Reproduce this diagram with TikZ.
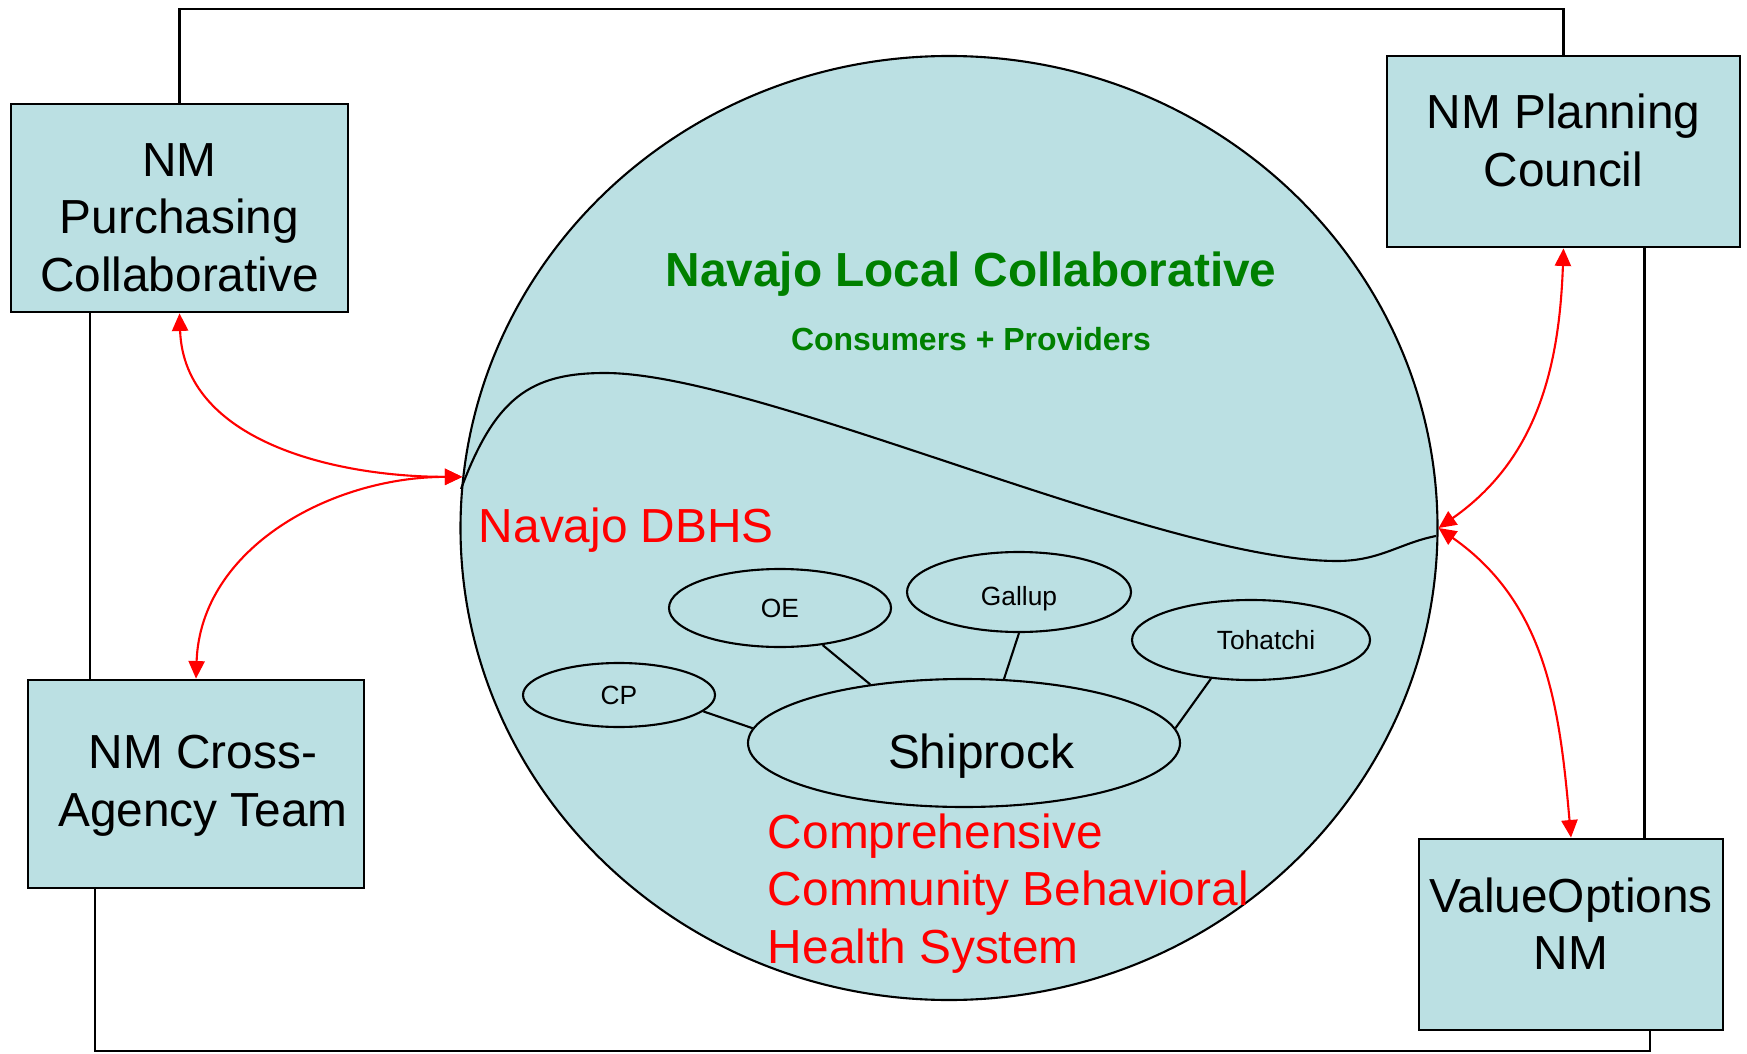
\documentclass[tikz,border=0pt]{standalone}
\usepackage{fontspec}
\setmainfont{Liberation Sans}
\usepackage{xcolor}
\usepackage{tikz}
\usetikzlibrary{calc, positioning, arrows.meta, shapes.geometric}
\definecolor{nlcblue}{RGB}{187,224,227}
\definecolor{nlcgreen}{RGB}{0,128,0}
\newcommand{\bigtxt}{\fontsize{13.6}{16.4}\selectfont}
\newcommand{\smalltxt}{\fontsize{7.5}{9}\selectfont}
\tikzset{
    agency/.style={rectangle, draw=black, line width=0.8pt, fill=nlcblue, inner sep=0pt},
    boxtext/.style={font=\bigtxt, align=center, inner sep=0pt},
    region/.style={ellipse, draw=black, line width=0.6pt, fill=nlcblue, inner sep=0pt, minimum width=9.77cm, minimum height=9.44cm},
    site/.style={ellipse, draw=black, line width=0.6pt, fill=nlcblue, inner sep=0pt, font=\smalltxt},
    wire/.style={line width=0.7pt},
    spoke/.style={line width=0.6pt},
    link/.style={{Triangle[length=5pt,width=4.6pt]}-{Triangle[length=5pt,width=4.6pt]}, red, line width=0.6pt},
    title/.style={font=\bigtxt\bfseries, text=nlcgreen},
    redtxt/.style={font=\bigtxt, text=red, align=left}
}

\begin{document}
\begin{tikzpicture}
    \useasboundingbox (0,0) rectangle (17.47,10.53);

    % Navajo Local Collaborative
    \node[region] (nlc) at (9.49,5.25) {};
    \draw[line width=0.6pt] (4.61,5.64) .. controls (4.95,6.55) and (5.3,6.8) .. (6.05,6.8)
        .. controls (7.6,6.8) and (11.6,4.92) .. (13.37,4.92)
        .. controls (13.8,4.92) and (14.0,5.1) .. (14.36,5.17);
    \node[title] (nlctitle) at (9.71,7.785) {Navajo Local Collaborative};
    \node[title, font=\fontsize{9.1}{11}\selectfont\bfseries] (cp-title) at (9.71,7.14) {Consumers + Providers};
    \node[redtxt, anchor=west] (dbhs) at (4.665,5.225) {Navajo DBHS};
    \node[redtxt, anchor=west] (ccbhs) at (7.555,1.595) {Comprehensive\\Community Behavioral\\Health System};

    % sites
    \node[site, minimum width=4.32cm, minimum height=1.28cm,
        label={[font=\bigtxt, shift={(0.17,-0.13)}]center:Shiprock}] (ship) at (9.64,3.10) {};
    \node[site, minimum width=1.92cm, minimum height=0.64cm] (cp) at (6.19,3.58) {CP};
    \node[site, minimum width=2.22cm, minimum height=0.78cm] (oe) at (7.80,4.45) {OE};
    \node[site, minimum width=2.24cm, minimum height=0.80cm,
        label={[font=\smalltxt, yshift=-0.065cm]center:Gallup}] (gallup) at (10.19,4.61) {};
    \node[site, minimum width=2.38cm, minimum height=0.80cm] (toh) at (12.51,4.13) {\hspace{0.3cm}Tohatchi};
    \draw[spoke] (cp.-11) -- (ship.176);
    \draw[spoke] (oe.-41) -- (ship.148);
    \draw[spoke] (gallup.south) -- (ship.58);
    \draw[spoke] (toh.-136) -- (ship.4);

    % NM agencies
    \node[agency, minimum width=3.37cm, minimum height=2.08cm,
        label={[boxtext, yshift=-0.095cm]center:NM\\Purchasing\\Collaborative}] (purch) at (1.795,8.45) {};
    \node[agency, minimum width=3.53cm, minimum height=1.91cm,
        label={[boxtext, yshift=0.11cm]center:NM Planning\\Council}] (plan) at (15.635,9.015) {};
    \node[agency, minimum width=3.36cm, minimum height=2.08cm,
        label={[boxtext, shift={(0.07,-0.02)}]center:NM Cross-\\Agency Team}] (cross) at (1.96,2.69) {};
    \node[agency, minimum width=3.04cm, minimum height=1.91cm,
        label={[boxtext, yshift=0.11cm]center:ValueOptions\\NM}] (vo) at (15.71,1.185) {};

    % outer ring
    \coordinate (top) at (0,10.44);
    \coordinate (bot) at (0,0.02);
    \draw[wire] (purch.north) -- (purch.north |- top) -| (plan.north);
    \coordinate (pl) at ($(purch.south west)!0.237!(purch.south east)$);
    \draw[wire] (pl) -- (pl |- cross.north);
    \coordinate (pr) at ($(plan.south west)!0.728!(plan.south east)$);
    \draw[wire] (pr) -- (pr |- vo.north);
    \coordinate (cb) at ($(cross.south west)!0.202!(cross.south east)$);
    \coordinate (vb) at ($(vo.south west)!0.757!(vo.south east)$);
    \draw[wire] (cb) -- (cb |- bot) -| (vb);

    % links
    \draw[link] (purch.south) to[out=-88, in=180] (nlc.174.5);
    \draw[link] (cross.north) to[out=88, in=180] (nlc.174.5);
    \draw[link] (plan.south) to[out=-92, in=35] (nlc.0.3);
    \draw[link] (vo.north) to[out=95, in=-35] (nlc.-0.3);
\end{tikzpicture}
\end{document}
